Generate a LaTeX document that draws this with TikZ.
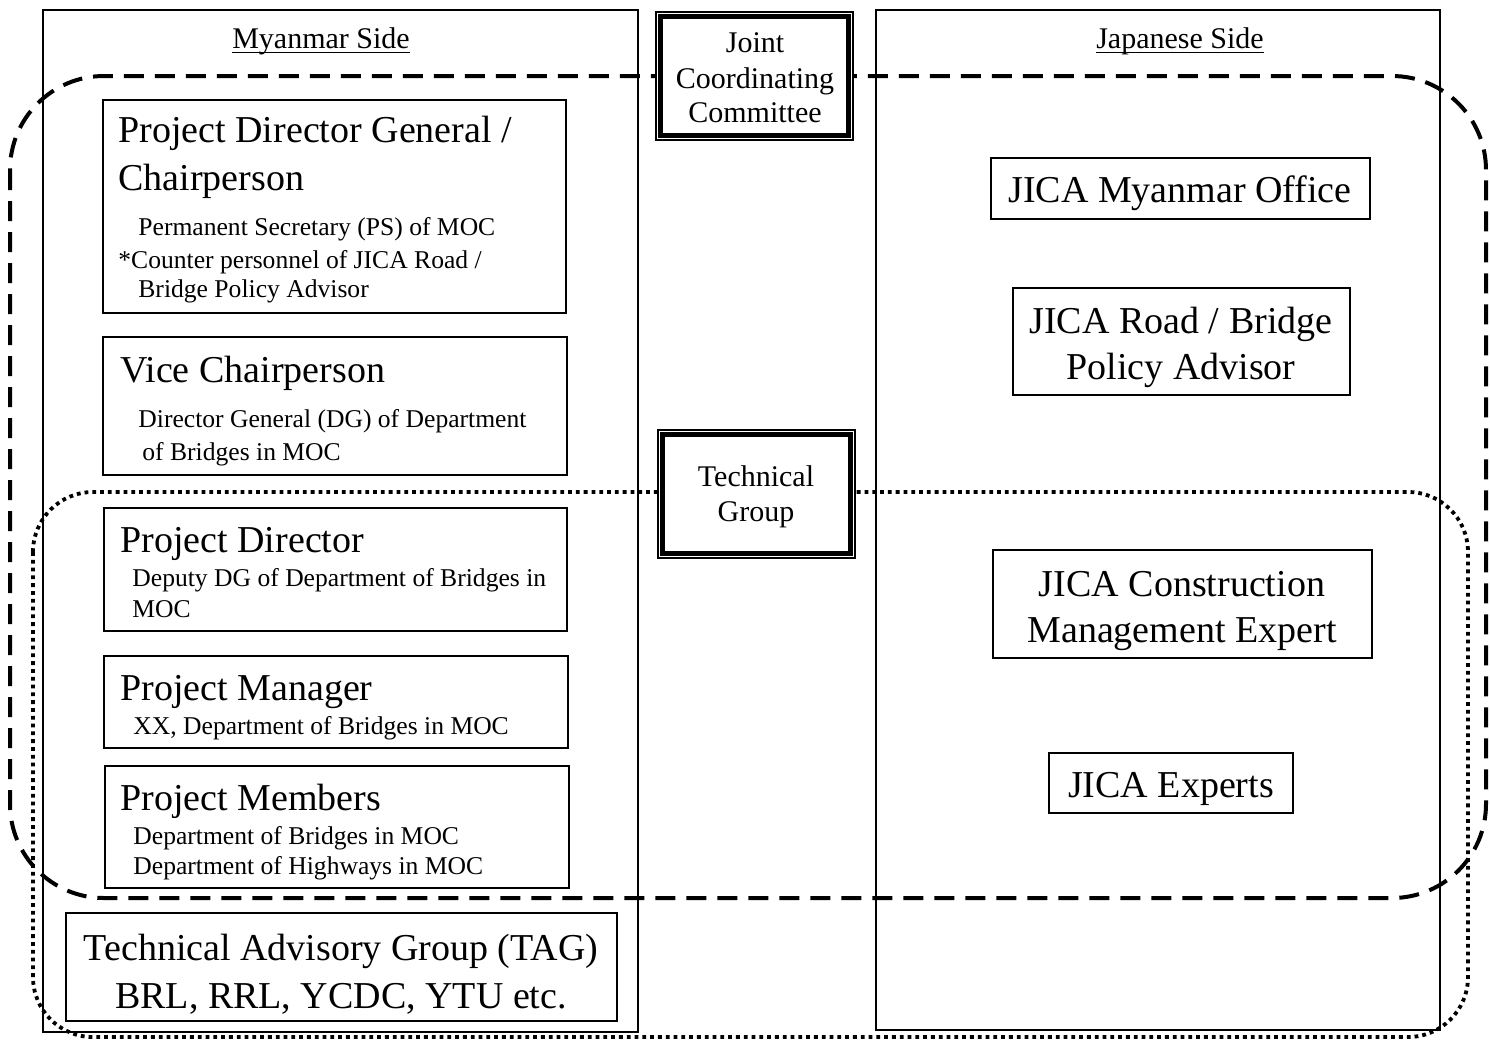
\documentclass[tikz,border=0pt]{standalone}
\usepackage{fontspec}
\setmainfont{Liberation Serif}
\usetikzlibrary{fit}
\newcommand\fbig{\fontsize{19}{23}\selectfont}
\newcommand\fmid{\fontsize{15}{17.5}\selectfont}
\newcommand\fsmall{\fontsize{12.8}{15}\selectfont}
\begin{document}
\begin{tikzpicture}[x=0.5pt,y=-0.5pt,
  panel/.style={draw, line width=0.8pt, inner sep=0pt},
  orgbox/.style={draw, line width=1pt, fill=white, inner sep=0pt},
  framebox/.style={draw, line width=0.6pt, fill=white, inner sep=0pt},
  boldframe/.style={line width=2.5pt},
  lefttxt/.style={inner sep=0pt, anchor=base west},
  midtxt/.style={inner sep=0pt, anchor=base},
  headrule/.style={line width=0.6pt},
  dashgroup/.style={line width=2pt, dash pattern=on 10pt off 5.5pt, rounded corners=47pt},
  dotgroup/.style={line width=1.9pt, dash pattern=on 1.9pt off 2pt, rounded corners=30pt}
]
\useasboundingbox (0,0) rectangle (1490,1041);

% the two sides
\node[panel, fit={(43,10) (638,1032)}] (myside) {};
\node[panel, fit={(876,10) (1440,1030)}] (jpside) {};
\node[midtxt, font=\fmid] (myhead) at (321,48) {Myanmar Side};
\node[midtxt, font=\fmid] (jphead) at (1180,48) {Japanese Side};
\draw[headrule] ([yshift=-2.3pt]myhead.base west) -- ([yshift=-2.3pt]myhead.base east);
\draw[headrule] ([yshift=-2.3pt]jphead.base west) -- ([yshift=-2.3pt]jphead.base east);

% group outlines
\draw[dashgroup] (10,76) rectangle (1486,898);
\draw[dotgroup] (33,492) rectangle (1468,1037);

% committee boxes
\node[framebox, fit={(656,12) (853,140)}] (jcc) {};
\draw[boldframe] ([shift={(5,5)}]jcc.north west) rectangle ([shift={(-5,-5)}]jcc.south east);
\node[midtxt, font=\fmid] (jcc1) at (755,52) {Joint};
\node[midtxt, font=\fmid] (jcc2) at (755,88) {Coordinating};
\node[midtxt, font=\fmid] (jcc3) at (755,122) {Committee};

\node[framebox, fit={(658,430) (855,558)}] (tg) {};
\draw[boldframe] ([shift={(5,5)}]tg.north west) rectangle ([shift={(-5,-5)}]tg.south east);
\node[midtxt, font=\fmid] (tg1) at (756,486) {Technical};
\node[midtxt, font=\fmid] (tg2) at (756,521) {Group};

% Myanmar side members
\node[orgbox, fit={(103,100) (566,313)}] (pdg) {};
\node[lefttxt, font=\fbig] (pdg1) at (118,142) {Project Director General /};
\node[lefttxt, font=\fbig] (pdg2) at (118,190) {Chairperson};
\node[lefttxt, font=\fsmall] (pdg3) at (138,235) {Permanent Secretary (PS) of MOC};
\node[lefttxt, font=\fsmall] (pdg4) at (118,268) {*Counter personnel of JICA Road /};
\node[lefttxt, font=\fsmall] (pdg5) at (138,297) {Bridge Policy Advisor};

\node[orgbox, fit={(103,337) (567,475)}] (vc) {};
\node[lefttxt, font=\fbig] (vc1) at (120,382) {Vice Chairperson};
\node[lefttxt, font=\fsmall] (vc2) at (138,427) {Director General (DG) of Department};
\node[lefttxt, font=\fsmall] (vc3) at (142,460) {of Bridges in MOC};

\node[orgbox, fit={(104,508) (567,631)}] (pd) {};
\node[lefttxt, font=\fbig] (pd1) at (120,552) {Project Director};
\node[lefttxt, font=\fsmall] (pd2) at (132,586) {Deputy DG of Department of Bridges in};
\node[lefttxt, font=\fsmall] (pd3) at (132,617) {MOC};

\node[orgbox, fit={(104,656) (568,748)}] (pm) {};
\node[lefttxt, font=\fbig] (pm1) at (120,700) {Project Manager};
\node[lefttxt, font=\fsmall] (pm2) at (133,734) {XX, Department of Bridges in MOC};

\node[orgbox, fit={(105,766) (569,888)}] (pmem) {};
\node[lefttxt, font=\fbig] (pmem1) at (120,810) {Project Members};
\node[lefttxt, font=\fsmall] (pmem2) at (133,844) {Department of Bridges in MOC};
\node[lefttxt, font=\fsmall] (pmem3) at (133,874) {Department of Highways in MOC};

\node[orgbox, fit={(66,913) (617,1021)}] (tag) {};
\node[midtxt, font=\fbig] (tag1) at (341,960) {Technical Advisory Group (TAG)};
\node[midtxt, font=\fbig] (tag2) at (341,1008) {BRL, RRL, YCDC, YTU etc.};

% Japanese side members
\node[orgbox, fit={(991,158) (1370,219)}] (jmo) {};
\node[midtxt, font=\fbig] (jmo1) at (1180,202) {JICA Myanmar Office};

\node[orgbox, fit={(1013,288) (1350,395)}] (jrb) {};
\node[midtxt, font=\fbig] (jrb1) at (1181,333) {JICA Road / Bridge};
\node[midtxt, font=\fbig] (jrb2) at (1181,379) {Policy Advisor};

\node[orgbox, fit={(993,550) (1372,658)}] (jcm) {};
\node[midtxt, font=\fbig] (jcm1) at (1182,596) {JICA Construction};
\node[midtxt, font=\fbig] (jcm2) at (1182,642) {Management Expert};

\node[orgbox, fit={(1049,753) (1293,813)}] (jex) {};
\node[midtxt, font=\fbig] (jex1) at (1171,797) {JICA Experts};
\end{tikzpicture}
\end{document}
